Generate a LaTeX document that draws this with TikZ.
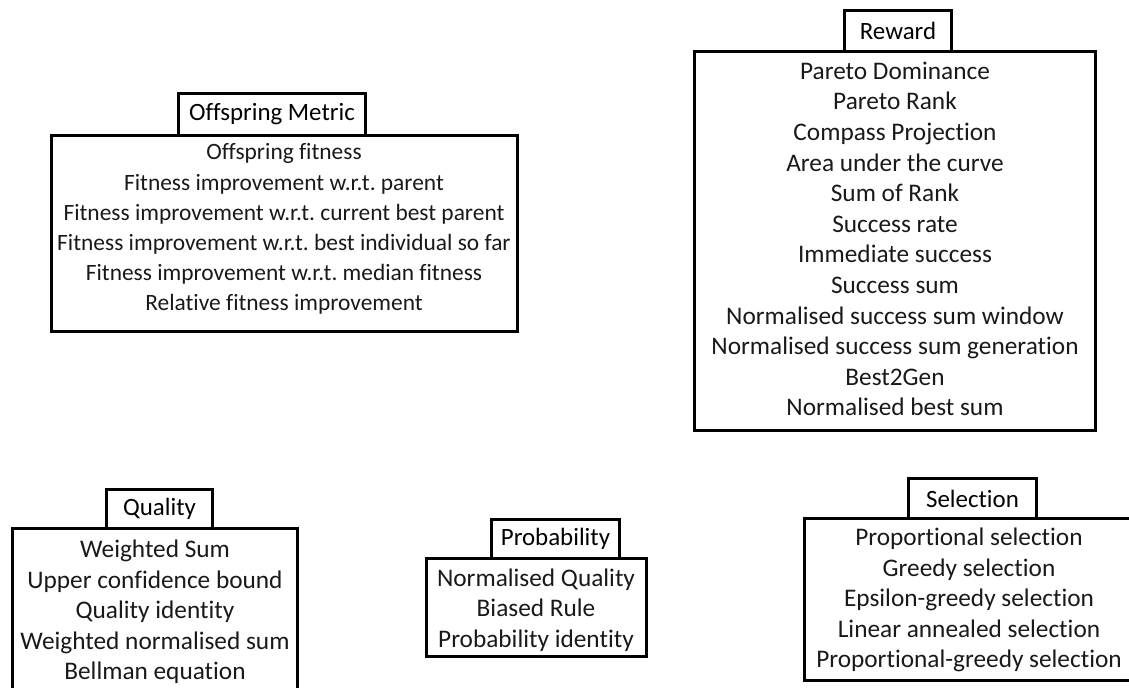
\documentclass[tikz,border=0pt]{standalone}
\usepackage{fontspec}
\setmainfont{Carlito}[Ligatures=NoCommon]
\frenchspacing
\tikzset{
  frame/.style={draw=black, line width=3bp, inner sep=0pt, outer sep=0pt},
  heading/.style={frame, fill=white, font=\fontsize{25}{30}\selectfont},
  listing/.style={align=center, inner sep=0pt, font=\fontsize{25.4}{30.7}\selectfont, text=black!90},
  smalllisting/.style={listing, font=\fontsize{23.5}{30.2}\selectfont}
}
\begin{document}
\begin{tikzpicture}[x=1bp, y=-1bp]
\useasboundingbox (0,0) rectangle (1129,688);
\clip (0,0) rectangle (1129,688);

% Offspring metric group
\node[frame, minimum width=466bp, minimum height=196bp] (offbox) at (284.5,233.5) {};
\node[heading, minimum width=187bp, minimum height=42bp] (offhead) at (272,114.5) {Offspring Metric};
\node[smalllisting] (offlist) at (284,229) {Offspring fitness\\
Fitness improvement w.r.t. parent\\
Fitness improvement w.r.t. current best parent\\
Fitness improvement w.r.t. best individual so far\\
Fitness improvement w.r.t. median fitness\\
Relative fitness improvement};

% Reward group
\node[frame, minimum width=401bp, minimum height=379bp] (rewbox) at (895,241) {};
\node[heading, minimum width=107bp, minimum height=41bp] (rewhead) at (898,31) {Reward};
\node[listing] (rewlist) at (895,239) {Pareto Dominance\\
Pareto Rank\\
Compass Projection\\
Area under the curve\\
Sum of Rank\\
Success rate\\
Immediate success\\
Success sum\\
Normalised success sum window\\
Normalised success sum generation\\
Best2Gen\\
Normalised best sum};

% Quality group (runs past the lower edge)
\node[frame, minimum width=285bp, minimum height=191.5bp] (qualbox) at (155,624.25) {};
\node[heading, minimum width=106bp, minimum height=39bp] (qualhead) at (159.5,509) {Quality};
\node[listing] (quallist) at (155,612) {Weighted Sum\\
Upper confidence bound\\
Quality identity\\
Weighted normalised sum\\
Bellman equation};

% Probability group
\node[frame, minimum width=220bp, minimum height=98bp] (probbox) at (536.5,607.5) {};
\node[heading, minimum width=128bp, minimum height=39bp] (probhead) at (555.5,539) {Probability};
\node[listing] (problist) at (536,610) {Normalised Quality\\
Biased Rule\\
Probability identity};

% Selection group (runs past the right edge)
\node[frame, minimum width=345.5bp, minimum height=162bp] (selbox) at (977.25,599.5) {};
\node[heading, minimum width=128bp, minimum height=40bp] (selhead) at (972.5,498.5) {Selection};
\node[listing] (sellist) at (969,600) {Proportional selection\\
Greedy selection\\
Epsilon-greedy selection\\
Linear annealed selection\\
Proportional-greedy selection};
\end{tikzpicture}
\end{document}
